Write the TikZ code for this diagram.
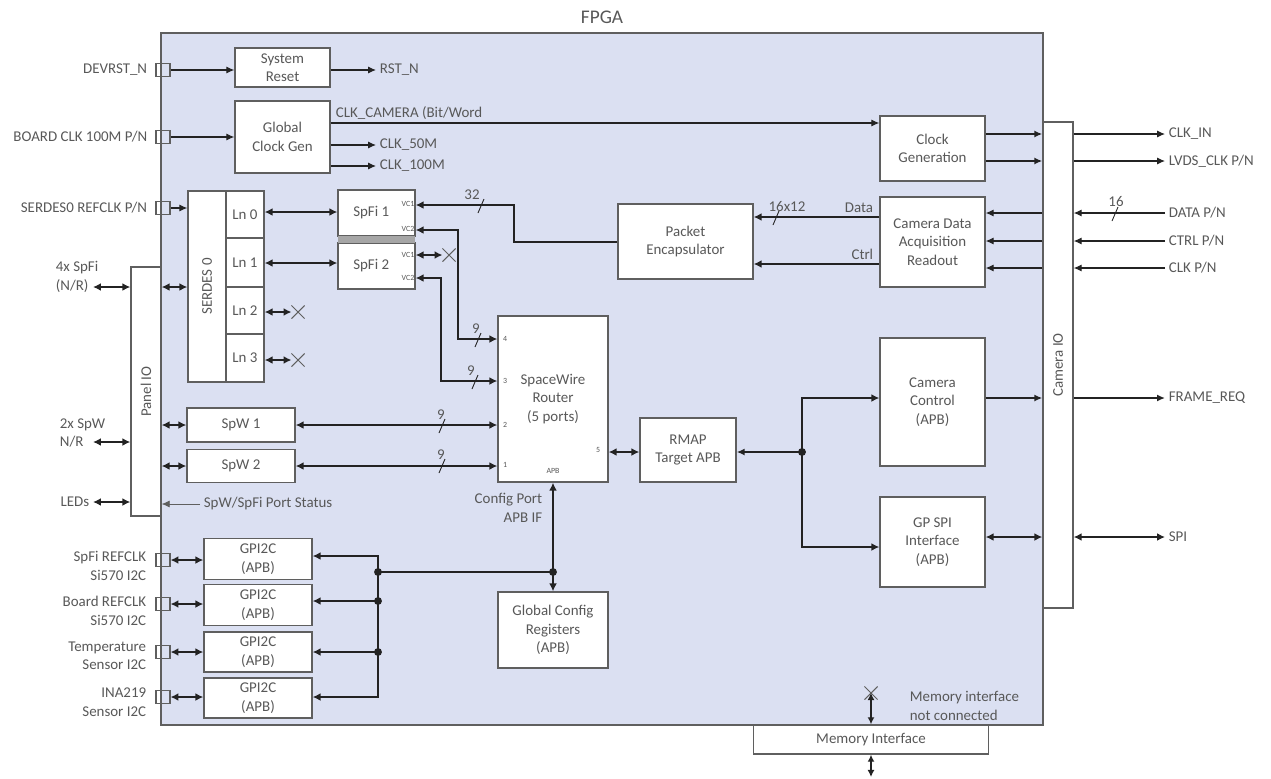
\documentclass[tikz,border=0pt]{standalone}
\usepackage{fontspec}
\setmainfont{Carlito}
\usetikzlibrary{arrows.meta,shapes.misc}
\definecolor{fpgabg}{RGB}{219,224,242}
\definecolor{txtgray}{RGB}{88,88,88}
\definecolor{edgegray}{RGB}{95,95,95}
\definecolor{wire}{RGB}{35,35,35}

\begin{document}
\begin{tikzpicture}[x=0.02cm, y=-0.02cm,
        sz/.style 2 args={minimum width=#1*0.02cm, minimum height=#2*0.02cm},
        blk/.style={draw=edgegray, fill=white, line width=0.8pt, align=center,
                inner sep=1pt, text=txtgray, font=\fontsize{8.5}{10.5}\selectfont},
        ioport/.style={draw=edgegray, line width=0.6pt, inner sep=0pt, sz={14}{13}},
        lab/.style={text=txtgray, inner sep=2pt, font=\fontsize{8.5}{10.5}\selectfont},
        tiny/.style={text=txtgray, inner sep=0pt, font=\fontsize{4.5}{5}\selectfont},
        sig/.style={-{Latex[length=4.5pt,width=4pt]}, draw=wire, line width=0.6pt},
        mid/.style={-{Latex[length=4.5pt,width=4pt]}, draw=wire, line width=1.1pt},
        busr/.style={-{Latex[length=4.5pt,width=4.5pt]}, draw=wire, line width=1.6pt},
        bus/.style={{Latex[length=4.5pt,width=4.5pt]}-{Latex[length=4.5pt,width=4.5pt]},
                draw=wire, line width=1.6pt},
        xmark/.style={cross out, draw=edgegray, line width=0.6pt, sz={12}{12}, inner sep=0pt},
        dot/.style={circle, fill=wire, inner sep=0pt, minimum size=4.5pt}
    ]
    \useasboundingbox (0,0) rectangle (1271,778);

    % FPGA frame
    \node[draw=edgegray, fill=fpgabg, line width=0.9pt, inner sep=0pt, sz={882}{692}] (fpga) at (602,379) {};
    \node[text=txtgray, font=\fontsize{11}{13}\selectfont] (fpgat) at (602,17) {FPGA};

    % blocks
    \node[blk, sz={95}{39}] (sysrst) at (282.5,67.5) {System\\Reset};
    \node[blk, sz={95}{72}] (clkgen) at (282.5,137) {Global\\Clock Gen};
    \node[blk, sz={105}{65}] (clkgn) at (932.5,148.5) {Clock\\Generation};
    \node[blk, sz={105}{90}] (camdaq) at (932.5,242) {Camera Data\\Acquisition\\Readout};
    \node[blk, sz={135}{75}] (pktenc) at (685.5,241.5) {Packet\\Encapsulator};
    \node[blk, sz={77}{46}] (spfi1) at (376.5,213) {SpFi 1\hspace{6pt}};
    \node[blk, sz={77}{46}] (spfi2) at (376.5,266) {SpFi 2\hspace{6pt}};
    \fill[gray!70] (338,236) rectangle (415,243);
    \node[blk, sz={38}{191}] (serdes) at (207,286.5) {};
    \node[lab, rotate=90] (tser) at (serdes) {SERDES 0};
    \node[blk, sz={38}{47}] (ln0) at (245,214.5) {Ln 0};
    \node[blk, sz={38}{49}] (ln1) at (245,262.5) {Ln 1};
    \node[blk, sz={38}{47}] (ln2) at (245,310.5) {Ln 2};
    \node[blk, sz={38}{48}] (ln3) at (245,358) {Ln 3};
    \node[blk, sz={110}{166}] (router) at (553,399) {SpaceWire\\Router\\(5 ports)};
    \node[blk, sz={108}{34}] (spw1) at (241,425) {SpW 1};
    \node[blk, sz={108}{33}] (spw2) at (241,466) {SpW 2};
    \node[blk, sz={96}{64}] (rmap) at (688,450) {RMAP\\Target APB};
    \node[blk, sz={105}{128}] (camctl) at (932.5,402) {Camera\\Control\\(APB)};
    \node[blk, sz={105}{90}] (gpspi) at (932.5,542) {GP SPI\\Interface\\(APB)};
    \node[blk, sz={110}{76}] (gcr) at (553,630) {Global Config\\Registers\\(APB)};
    \node[blk, sz={108}{41}] (gpi1) at (258,559) {GPI2C\\(APB)};
    \node[blk, sz={108}{41}] (gpi2) at (258,605) {GPI2C\\(APB)};
    \node[blk, sz={108}{40}] (gpi3) at (258,652) {GPI2C\\(APB)};
    \node[blk, sz={108}{40}] (gpi4) at (258,698) {GPI2C\\(APB)};
    \node[blk, sz={30}{249}] (panelio) at (146,391.5) {};
    \node[lab, rotate=90] (tpio) at (panelio) {Panel IO};
    \node[blk, sz={30}{486}] (camio) at (1058,365) {};
    \node[lab, rotate=90] (tcio) at (camio) {Camera IO};
    \node[blk, sz={235}{29}] (memif) at (871,739.5) {Memory Interface};

    % small texts in blocks
    \node[tiny] (vc11) at (408,204) {VC1};
    \node[tiny] (vc12) at (408,229) {VC2};
    \node[tiny] (vc21) at (408,255) {VC1};
    \node[tiny] (vc22) at (408,278) {VC2};
    \node[tiny] (rp4) at (505,339) {4};
    \node[tiny] (rp3) at (505,381) {3};
    \node[tiny] (rp2) at (505,425) {2};
    \node[tiny] (rp1) at (505,465) {1};
    \node[tiny] (rp5) at (598,450) {5};
    \node[tiny] (rpa) at (553,471) {APB};

    % FPGA pins
    \node[ioport] (pdev) at (163,70) {};
    \node[ioport] (pclk) at (163,137) {};
    \node[ioport] (pser) at (163,208) {};
    \node[ioport] (pi1) at (163,560) {};
    \node[ioport] (pi2) at (163,604) {};
    \node[ioport] (pi3) at (163,652) {};
    \node[ioport] (pi4) at (163,697) {};
    \node[lab, anchor=east] (ldev) at (151,70) {DEVRST\_N};
    \node[lab, anchor=east] (lclk) at (151,137) {BOARD CLK 100M P/N};
    \node[lab, anchor=east] (lser) at (151,208) {SERDES0 REFCLK P/N};
    \node[lab, anchor=east, align=right] (li1) at (150,566) {SpFi REFCLK\\Si570 I2C};
    \node[lab, anchor=east, align=right] (li2) at (150,611) {Board REFCLK\\Si570 I2C};
    \node[lab, anchor=east, align=right] (li3) at (150,656) {Temperature\\Sensor I2C};
    \node[lab, anchor=east, align=right] (li4) at (150,702) {INA219\\Sensor I2C};

    % reset and clocks
    \draw[sig] (pdev.east) -- (pdev -| sysrst.west);
    \node[lab, anchor=west] (lrst) at (376,70) {RST\_N};
    \draw[sig] (sysrst.east |- lrst) -- (lrst.west);
    \draw[sig] (pclk.east) -- (pclk -| clkgen.west);
    \node[lab, anchor=west] (l50) at (376,145) {CLK\_50M};
    \draw[sig] (clkgen.east |- l50) -- (l50.west);
    \node[lab, anchor=west] (l100) at (376,166) {CLK\_100M};
    \draw[sig] (clkgen.east |- l100) -- (l100.west);
    \draw[sig] (clkgen.east |- 0,123) -- (clkgn.west |- 0,123);
    \node[lab, anchor=south west] (lcam) at (332,123) {CLK\_CAMERA (Bit/Word};

    % camera side
    \draw[mid] (clkgn.east |- 0,134) -- (camio.west |- 0,134);
    \draw[mid] (clkgn.east |- 0,161) -- (camio.west |- 0,161);
    \node[lab, anchor=west] (lclkin) at (1165,134) {CLK\_IN};
    \draw[sig] (camio.east |- lclkin) -- (lclkin.west);
    \node[lab, anchor=west] (llvds) at (1165,161) {LVDS\_CLK P/N};
    \draw[sig] (camio.east |- llvds) -- (llvds.west);
    \node[lab, anchor=west] (ldata) at (1165,213) {DATA P/N};
    \node[lab, anchor=west] (lctl) at (1165,241) {CTRL P/N};
    \node[lab, anchor=west] (lcclk) at (1165,268) {CLK P/N};
    \foreach \n in {ldata,lctl,lcclk} {
        \draw[sig] (\n.west) -- (camio.east |- \n);
        \draw[sig] (camio.west |- \n) -- (camdaq.east |- \n);
    }
    \draw[busr] (camdaq.west |- 0,217) -- (pktenc.east |- 0,217);
    \draw[busr] (camdaq.west |- 0,264) -- (pktenc.east |- 0,264);
    \node[lab, anchor=south east] (ldat) at (877,216) {Data};
    \node[lab, anchor=south east] (lctr) at (877,263) {Ctrl};
    \node[dot] (jc) at (802,452) {};
    \draw[mid] (jc.center) -- (rmap.east |- jc);
    \draw[bus] (camctl.west |- 0,398) -| (jc.center) |- (gpspi.west |- 0,547);
    \draw[mid] (camctl.east |- 0,398) -- (camio.west |- 0,398);
    \node[lab, anchor=west] (lfrm) at (1165,398) {FRAME\_REQ};
    \draw[mid] (camio.east |- lfrm) -- (lfrm.west);
    \draw[bus] (gpspi.east |- 0,537) -- (camio.west |- 0,537);
    \node[lab, anchor=west] (lspi) at (1165,537) {SPI};
    \draw[bus] (camio.east |- lspi) -- (lspi.west);

    % spacefibre / spacewire
    \draw[busr] (pktenc.west |- 0,242) -| (514,205) -- (spfi1.east |- 0,205);
    \draw[bus] (spfi1.east |- 0,230) -| (458,339) -- (router.west |- 0,339);
    \node[xmark] (xa) at (449,255) {};
    \draw[bus] (spfi2.east |- 0,255) -- (xa.west);
    \draw[bus] (spfi2.east |- 0,278) -| (441,381) -- (router.west |- 0,381);
    \draw[bus] (spw1.east) -- (router.west |- spw1);
    \draw[bus] (spw2.east) -- (router.west |- spw2);
    \draw[bus] (router.east |- 0,452) -- (rmap.west |- 0,452);
    \draw[sig] (pser.east) -- (pser -| serdes.west);
    \draw[bus] (ln0.east |- 0,212) -- (spfi1.west |- 0,212);
    \draw[bus] (ln1.east |- 0,263) -- (spfi2.west |- 0,263);
    \node[xmark] (xb) at (298,312) {};
    \draw[bus] (ln2.east |- xb) -- (xb.west);
    \node[xmark] (xc) at (298,360) {};
    \draw[bus] (ln3.east |- xc) -- (xc.west);

    % bus widths
    \foreach \sx/\sy/\lx/\ly/\w [count=\i] in {481/206/472/195/32, 478/340/476/329/9,
            475/382/471/371/9, 442/426/441/415/9, 442/466/441/455/9,
            776/218/787/207/16x12, 1115/214/1116/202/16} {
        \draw[draw=wire, line width=0.5pt] (\sx-3,\sy+7) -- (\sx+3,\sy-7);
        \node[lab, inner sep=0pt] (bw\i) at (\lx,\ly) {\w};
    }

    % panel IO
    \coordinate (xspfi) at (93,287);
    \coordinate (xspw) at (93,442);
    \node[lab, anchor=west, align=left] (lspfi) at (52,277) {4x SpFi\\(N/R)};
    \node[lab, anchor=west, align=left] (lspw) at (56,433) {2x SpW\\N/R};
    \node[lab, anchor=east] (lleds) at (93,502) {LEDs};
    \draw[bus] (xspfi) -- (xspfi -| panelio.west);
    \draw[bus] (xspw) -- (xspw -| panelio.west);
    \draw[bus] (lleds.east) -- (lleds -| panelio.west);
    \draw[bus] (panelio.east |- 0,287) -- (serdes.west |- 0,287);
    \draw[bus] (panelio.east |- spw1) -- (spw1.west);
    \draw[bus] (panelio.east |- spw2) -- (spw2.west);
    \node[lab, anchor=west] (lstat) at (200,504) {SpW/SpFi Port Status};
    \draw[sig, draw=edgegray, line width=0.4pt] (lstat.west) -- (lstat -| panelio.east);

    % config and I2C
    \draw[bus] (router.south) -- (gcr.north);
    \node[dot] (jr) at (553,572) {};
    \node[lab, anchor=east, align=right] (lcfg) at (546,508) {Config Port\\APB IF};
    \node[dot] (ja) at (378,572) {};
    \node[dot] (jb) at (378,601) {};
    \node[dot] (jd) at (378,652) {};
    \draw[draw=wire, line width=1.6pt] (ja.center) -- (jr.center);
    \draw[busr] (ja.center) |- (gpi1.east |- 0,556);
    \draw[busr] (jb.center) -- (gpi2.east |- jb);
    \draw[busr] (jd.center) -- (gpi3.east |- jd);
    \draw[busr] (ja.center) |- (gpi4.east |- 0,697);
    \draw[bus] (pi1.east) -- (pi1 -| gpi1.west);
    \draw[bus] (pi2.east) -- (pi2 -| gpi2.west);
    \draw[bus] (pi3.east) -- (pi3 -| gpi3.west);
    \draw[bus] (pi4.east) -- (pi4 -| gpi4.west);

    % memory
    \node[xmark] (xm) at (871,693) {};
    \draw[{Latex[length=4pt,width=4pt]}-{Latex[length=4pt,width=4pt]}, draw=wire, line width=1pt]
        (xm.center) -- (memif.north);
    \coordinate (xmem) at (871,777);
    \draw[{Latex[length=4pt,width=4pt]}-{Latex[length=4pt,width=4pt]}, draw=wire, line width=1pt]
        (memif.south) -- (xmem);
    \node[lab, anchor=west, align=left] (lmem) at (906,706) {Memory interface\\not connected};
\end{tikzpicture}
\end{document}
